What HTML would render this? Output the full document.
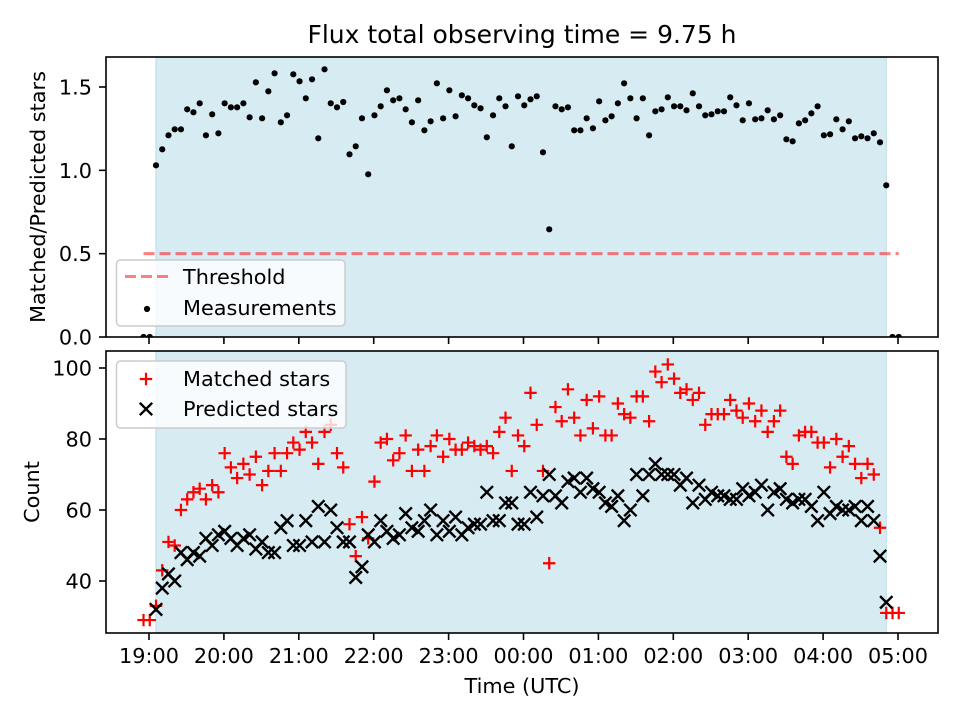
<!DOCTYPE html>
<html>
<head>
<meta charset="utf-8">
<style>
  html, body { margin: 0; padding: 0; background: #fff; }
  svg { display: block; font-family: "DejaVu Sans", "Liberation Sans", sans-serif; }
</style>
</head>
<body>
<svg id="chart" width="960" height="720" viewBox="0 0 960 720" xmlns="http://www.w3.org/2000/svg">
  <defs>
    <clipPath id="clipTop"><rect x="106" y="57" width="832" height="280"/></clipPath>
    <clipPath id="clipBot"><rect x="106" y="351" width="832" height="282"/></clipPath>
  </defs>
  <rect x="0" y="0" width="960" height="720" fill="#ffffff"/>
  <text x="522" y="43" font-size="25" text-anchor="middle" fill="#000">Flux total observing time = 9.75 h</text>
  <g id="topPlot"></g>
  <g id="botPlot"></g>
  <text x="522" y="693" font-size="20.8" text-anchor="middle" fill="#000">Time (UTC)</text>
  <text x="0" y="0" font-size="20.8" text-anchor="middle" fill="#000" transform="translate(45,197) rotate(-90)">Matched/Predicted stars</text>
  <text x="0" y="0" font-size="20.8" text-anchor="middle" fill="#000" transform="translate(39,492) rotate(-90)">Count</text>
</svg>
<script>
// ---- data (minutes since 19:00 UTC) ----
const times = [
  5.6,10.6,15.6,20.6,25.6,30.6,35.6,40.6,45.6,50.6,
  55.6,60.6,65.6,70.6,75.6,80.6,85.6,90.6,95.6,100.6,
  105.6,110.6,115.6,120.6,125.6,130.6,135.6,140.6,145.6,150.6,
  155.6,160.6,165.6,170.6,175.6,180.6,185.6,190.6,195.6,200.6,
  205.6,210.6,215.6,220.6,225.6,230.6,235.6,240.6,245.6,250.6,
  255.6,260.6,265.6,270.6,275.6,280.6,285.6,290.6,295.6,300.6,
  305.6,310.6,315.6,320.6,325.6,330.6,335.6,340.6,345.6,350.6,
  355.6,360.6,365.6,370.6,375.6,380.6,385.6,390.6,395.6,400.6,
  405.6,410.6,415.6,420.6,425.6,430.6,435.6,440.6,445.6,450.6,
  455.6,460.6,465.6,470.6,475.6,480.6,485.6,490.6,495.6,500.6,
  505.6,510.6,515.6,520.6,525.6,530.6,535.6,540.6,545.6,550.6,
  555.6,560.6,565.6,570.6,575.6,580.6,585.6,590.6
];
const ratios = [
  1.03,1.126,1.21,1.246,1.246,1.366,1.348,1.402,1.21,1.336,
  1.222,1.402,1.378,1.378,1.402,1.318,1.528,1.312,1.474,1.582,
  1.288,1.33,1.576,1.534,1.432,1.546,1.192,1.606,1.402,1.378,
  1.41,1.096,1.144,1.312,0.976,1.33,1.384,1.48,1.42,1.432,
  1.366,1.288,1.42,1.24,1.294,1.522,1.312,1.48,1.324,1.45,
  1.432,1.39,1.372,1.198,1.33,1.432,1.384,1.144,1.444,1.39,
  1.426,1.444,1.108,0.646,1.384,1.366,1.378,1.24,1.24,1.312,
  1.252,1.414,1.3,1.324,1.402,1.522,1.432,1.312,1.432,1.21,
  1.354,1.366,1.438,1.384,1.384,1.36,1.462,1.384,1.33,1.336,
  1.354,1.354,1.438,1.39,1.3,1.402,1.306,1.312,1.36,1.306,
  1.33,1.186,1.174,1.282,1.3,1.342,1.384,1.21,1.216,1.306,
  1.246,1.294,1.192,1.204,1.192,1.222,1.168,0.91
];
const matched = [
  33,43,51,50,60,63,65,66,63,67, 65,76,72,69,73,70,75,67,71,76,
  71,76,79,77,82,79,73,82,84,76, 72,56,47,58,52,68,79,80,74,76,
  81,71,77,71,78,81,75,80,77,77, 79,78,77,78,76,82,86,71,81,78,
  93,84,71,45,89,85,94,86,81,91, 83,92,81,81,90,87,86,92,92,85,
  99,96,101,97,93,94,91,93,84,87, 87,87,91,88,86,90,85,88,82,85,
  88,75,73,81,82,82,79,79,72,80, 75,78,73,69,73,70,55,31
];
const predicted = [
  32,38,42,40,48,46,48,47,52,50, 53,54,52,50,52,53,49,51,48,48,
  55,57,50,50,57,51,61,51,60,55, 51,51,41,44,53,51,57,54,52,53,
  59,55,54,57,60,53,57,54,58,53, 55,56,56,65,57,57,62,62,56,56,
  65,58,64,70,64,62,68,69,65,69, 66,65,62,61,64,57,60,70,64,70,
  73,70,70,70,67,69,62,67,63,65, 64,64,63,63,66,64,65,67,60,65,
  66,63,62,63,63,61,57,65,59,61, 60,60,61,57,61,57,47,34
];
const extraTimes = [-4.4, 0.6, 595.6, 600.6];
const extraRatios = [0, 0, 0, 0];
const extraMatched = [29, 29, 31, 31];
const xTickMinutes = [0,60,120,180,240,300,360,420,480,540,600];
const xTickLabels = ["19:00","20:00","21:00","22:00","23:00","00:00","01:00","02:00","03:00","04:00","05:00"];
const topYTicks = [0.0, 0.5, 1.0, 1.5];
const topYLabels = ["0.0","0.5","1.0","1.5"];
const botYTicks = [40, 60, 80, 100];
const botYLabels = ["40","60","80","100"];
const threshold = 0.5;
const thresholdRange = [-4.4, 600.6];
const spanRange = [5.6, 590.6];

// ---- scales ----
const X0 = 149, PXPERMIN = 749 / 600;
function xS(t) { return X0 + t * PXPERMIN; }
function yTop(v) { return 337 - v * (250 / 1.5); }
function yBot(v) { return 368 + (100 - v) * (213 / 60); }

const NS = "http://www.w3.org/2000/svg";
function mk(tag, attrs, parent) {
  const el = document.createElementNS(NS, tag);
  for (const k in attrs) el.setAttribute(k, attrs[k]);
  parent.appendChild(el);
  return el;
}
const topG = document.getElementById('topPlot');
const botG = document.getElementById('botPlot');

function axesFrame(g, y0, y1, yTicks, yLabels, yFn, showXLabels, prefix) {
  const sp = mk('rect', {x: xS(spanRange[0]), y: y0, width: xS(spanRange[1]) - xS(spanRange[0]), height: y1 - y0, fill: '#d6ebf2', stroke: '#c2e0ea', 'stroke-width': 1.2}, g);
  
  
  for (let i = 0; i < yTicks.length; i++) {
    const y = yFn(yTicks[i]);
    const tk = mk('line', {x1: 99, x2: 106, y1: y, y2: y, stroke: '#000', 'stroke-width': 1.6}, g);
    
    
    const tl = mk('text', {x: 92, y: y + 7.5, 'font-size': 20.8, 'text-anchor': 'end', fill: '#000'}, g);
    tl.textContent = yLabels[i];
    
    
  }
  for (let i = 0; i < xTickMinutes.length; i++) {
    const x = xS(xTickMinutes[i]);
    const tk = mk('line', {x1: x, x2: x, y1: y1, y2: y1 + 7, stroke: '#000', 'stroke-width': 1.6}, g);
    
    
    if (showXLabels) {
      const tl = mk('text', {x: x, y: y1 + 30, 'font-size': 20.8, 'text-anchor': 'middle', fill: '#000'}, g);
      tl.textContent = xTickLabels[i];
      
      
    }
  }
}

// ---- top panel ----
axesFrame(topG, 57, 337, topYTicks, topYLabels, yTop, false, 'top');
const topData = mk('g', {'clip-path': 'url(#clipTop)'}, topG);
const th = mk('line', {x1: xS(thresholdRange[0]), x2: xS(thresholdRange[1]), y1: yTop(threshold), y2: yTop(threshold), stroke: 'rgba(255,0,0,0.5)', 'stroke-width': 3, 'stroke-dasharray': '11 5'}, topData);


const allT = extraTimes.concat(times);
const allR = extraRatios.concat(ratios);
for (let i = 0; i < allT.length; i++) {
  const c = mk('circle', {cx: xS(allT[i]), cy: yTop(allR[i]), r: 3.1, fill: '#000'}, topData);
  
  
}
const fr1 = mk('rect', {x: 106, y: 57, width: 832, height: 280, fill: 'none', stroke: '#000', 'stroke-width': 1.6}, topG);



const lg1 = mk('g', {}, topG);


mk('rect', {x: 116.5, y: 260, width: 228.5, height: 66, rx: 4, fill: 'rgba(255,255,255,0.8)', stroke: '#cccccc', 'stroke-width': 1.5}, lg1);
const le1 = mk('line', {x1: 125, x2: 168, y1: 276.5, y2: 276.5, stroke: 'rgba(255,0,0,0.5)', 'stroke-width': 3, 'stroke-dasharray': '11 5'}, lg1);


const lt1 = mk('text', {x: 183, y: 284, 'font-size': 20.8, fill: '#000'}, lg1);
lt1.textContent = 'Threshold';


const le2 = mk('circle', {cx: 147, cy: 309, r: 3.1, fill: '#000'}, lg1);


const lt2 = mk('text', {x: 183, y: 315, 'font-size': 20.8, fill: '#000'}, lg1);
lt2.textContent = 'Measurements';



// ---- bottom panel ----
axesFrame(botG, 351, 633, botYTicks, botYLabels, yBot, true, 'bottom');
const botData = mk('g', {'clip-path': 'url(#clipBot)'}, botG);
function plus(g, x, y, col) {
  return mk('path', {d: `M${x-6.2},${y}H${x+6.2}M${x},${y-6.2}V${y+6.2}`, stroke: col, 'stroke-width': 2.2, fill: 'none'}, g);
}
function cross(g, x, y, col) {
  return mk('path', {d: `M${x-6.2},${y-6.2}L${x+6.2},${y+6.2}M${x-6.2},${y+6.2}L${x+6.2},${y-6.2}`, stroke: col, 'stroke-width': 2.4, fill: 'none'}, g);
}
const mT = extraTimes.concat(times);
const mV = extraMatched.concat(matched);
for (let i = 0; i < mT.length; i++) {
  const p = plus(botData, xS(mT[i]), yBot(mV[i]), '#ff0000');
  
  
}
for (let i = 0; i < times.length; i++) {
  const p = cross(botData, xS(times[i]), yBot(predicted[i]), '#000000');
  
  
}
const fr2 = mk('rect', {x: 106, y: 351, width: 832, height: 282, fill: 'none', stroke: '#000', 'stroke-width': 1.6}, botG);



const lg2 = mk('g', {}, botG);


mk('rect', {x: 116.5, y: 361, width: 229.5, height: 67, rx: 4, fill: 'rgba(255,255,255,0.8)', stroke: '#cccccc', 'stroke-width': 1.5}, lg2);
const lm = plus(lg2, 146, 379, '#ff0000');


const lmt = mk('text', {x: 183, y: 386, 'font-size': 20.8, fill: '#000'}, lg2);
lmt.textContent = 'Matched stars';


const lp = cross(lg2, 146, 409, '#000000');


const lpt = mk('text', {x: 183, y: 416, 'font-size': 20.8, fill: '#000'}, lg2);
lpt.textContent = 'Predicted stars';


</script>
</body>
</html>
